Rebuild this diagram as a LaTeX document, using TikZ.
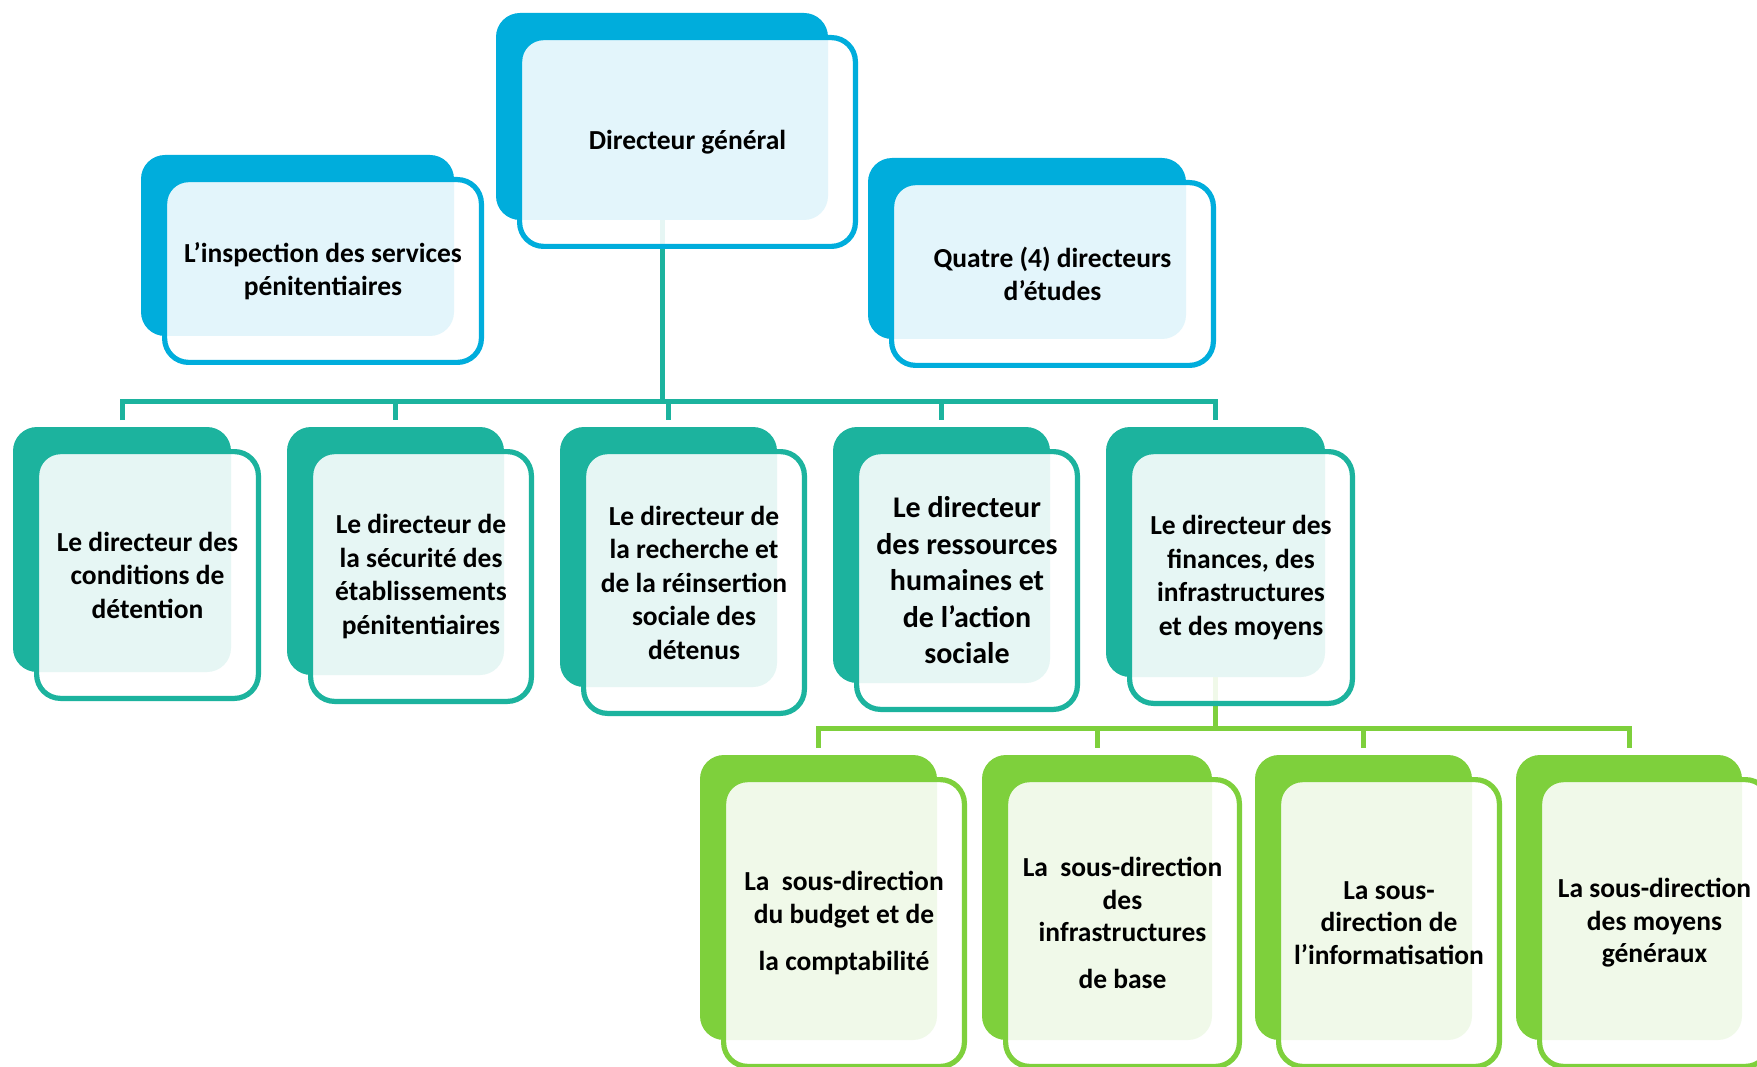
\documentclass[tikz,border=0pt]{standalone}
\usepackage{fontspec}
\setmainfont{Carlito}
\usetikzlibrary{backgrounds}

\definecolor{orgblue}{RGB}{0,173,220}
\definecolor{orgteal}{RGB}{28,179,158}
\definecolor{orggreen}{RGB}{126,208,60}

\tikzset{
  backbox/.style={draw=none, fill=#1, rounded corners=24pt, inner sep=0pt, outer sep=0pt},
  frontbox/.style={draw=#1, line width=5.2pt, fill=white, fill opacity=0.89, text opacity=1,
    rounded corners=24pt, align=center, inner sep=0pt, outer sep=0pt, text=black},
  tealline/.style={draw=orgteal, line width=5pt},
  greenline/.style={draw=orggreen, line width=5pt},
}

% #1 name, #2 colour, #3-#6 corners of the solid back panel (x1,y1,x2,y2), #7 font, #8 text
\newcommand\orgbox[8]{%
  \node[backbox=#2, minimum width={#5-#3}, minimum height={#6-#4}] (#1-b)
    at ({(#3+#5)/2},{(#4+#6)/2}) {};
  \node[frontbox=#2, minimum width={#5-#3+3.8}, minimum height={#6-#4+1.8}, font=#7] (#1)
    at ({(#3+#5)/2+25.5},{(#4+#6)/2+25.5}) {#8};
}

\newcommand\fnorm{\bfseries\fontsize{27.5}{33.5}\selectfont}
\newcommand\fbig{\bfseries\fontsize{30}{36.5}\selectfont}
\newcommand\fsub{\bfseries\fontsize{27.5}{32.5}\selectfont}

\begin{document}
\begin{tikzpicture}[x=1pt, y=-1pt]
  \useasboundingbox (0,0) rectangle (1757,1067);

  % top level
  \orgbox{dg}{orgblue}{496}{13}{828}{220}{\fnorm}{Directeur général}
  \orgbox{insp}{orgblue}{141}{155}{454}{336}{\fnorm}{L’inspection des services\\pénitentiaires}
  \orgbox{quatre}{orgblue}{868}{158}{1186}{339}{\fnorm}{Quatre (4) directeurs\\d’études}

  % directors
  \orgbox{dcd}{orgteal}{13}{427}{231}{672}{\fnorm}{Le directeur des\\conditions de\\détention}
  \orgbox{dse}{orgteal}{287}{427}{504}{675}{\fnorm}{Le directeur de\\la sécurité des\\établissements\\pénitentiaires}
  \orgbox{drr}{orgteal}{560}{427}{777}{687}{\fnorm}{Le directeur de\\la recherche et\\de la réinsertion\\sociale des\\détenus}
  \orgbox{drh}{orgteal}{833}{427}{1050}{683}{\fbig}{Le directeur\\des ressources\\humaines et\\de l’action\\sociale}
  \orgbox{dfi}{orgteal}{1106}{427}{1325}{677}{\fnorm}{Le directeur des\\finances, des\\infrastructures\\et des moyens}

  % sub-directorates
  \orgbox{sba}{orggreen}{700}{755}{937}{1040}{\fsub}{La~~sous-direction\\du budget et de\\[15pt]la comptabilité}
  \orgbox{sib}{orggreen}{982}{755}{1212}{1040}{\fsub}{La~~sous-direction\\des\\infrastructures\\[14pt]de base}
  \orgbox{sin}{orggreen}{1255}{755}{1472}{1040}{\fsub}{La sous-\\direction de\\l’informatisation}
  \orgbox{smg}{orggreen}{1516}{755}{1742}{1040}{\fsub}{La sous-direction\\des moyens\\généraux}

  % white page, then the connectors underneath the boxes
  \begin{pgfonlayer}{background}
    \fill[white] (0,0) rectangle (1757,1067);
    \coordinate (bar) at (0,401);
    \coordinate (gbar) at (0,728);
    \draw[tealline] (dg-b.south) -- (dg-b.south |- bar);
    \draw[tealline, shorten <=7pt, shorten >=7pt]
      (dcd-b.north) -- (dcd-b.north |- bar) -- (dfi-b.north |- bar) -- (dfi-b.north);
    \foreach \n in {dse,drr,drh}
      \draw[tealline, shorten >=7pt] (\n-b.north |- bar) -- (\n-b.north);
    \draw[greenline] (dfi-b.south) -- (dfi-b.south |- gbar);
    \draw[greenline, shorten <=7pt, shorten >=7pt]
      (sba-b.north) -- (sba-b.north |- gbar) -- (smg-b.north |- gbar) -- (smg-b.north);
    \foreach \n in {sib,sin}
      \draw[greenline, shorten >=7pt] (\n-b.north |- gbar) -- (\n-b.north);
  \end{pgfonlayer}
\end{tikzpicture}
\end{document}
